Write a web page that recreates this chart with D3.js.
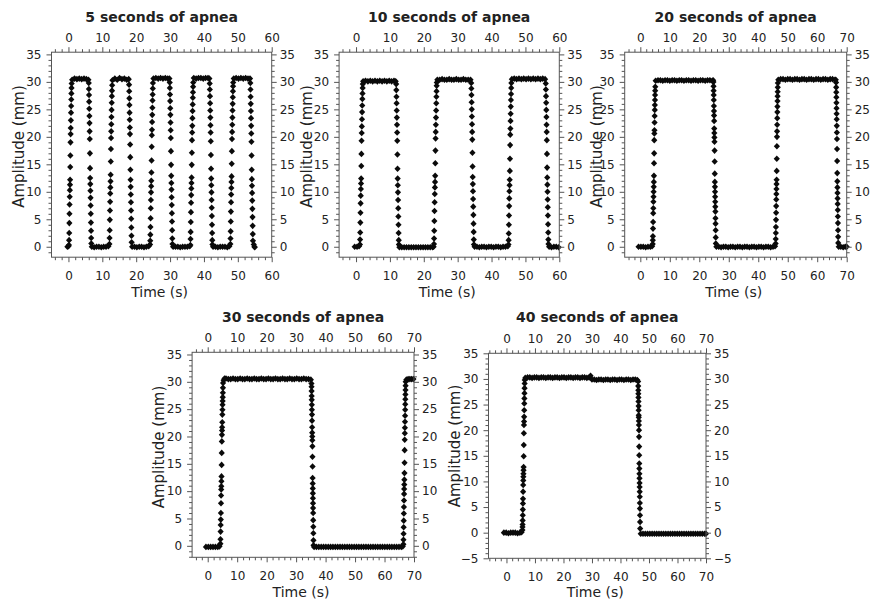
<!DOCTYPE html>
<html>
<head>
<meta charset="utf-8">
<script src="https://cdn.jsdelivr.net/npm/d3@7"></script>
<style>
  html, body { margin: 0; padding: 0; background: #ffffff; }
  svg { display: block; }
  text { font-family: "DejaVu Sans", Verdana, sans-serif; fill: #222; }
</style>
</head>
<body>
<svg id="chart" width="870" height="602"></svg>
<script>
// ---------------- DATA ----------------
const panelTitles = ["5 seconds of apnea", "10 seconds of apnea", "20 seconds of apnea", "30 seconds of apnea", "40 seconds of apnea"];
const xTicks60 = [0, 10, 20, 30, 40, 50, 60];
const xTicks70 = [0, 10, 20, 30, 40, 50, 60, 70];
const yTicks35 = [0, 5, 10, 15, 20, 25, 30, 35];
const yTicks40 = [-5, 0, 5, 10, 15, 20, 25, 30, 35];

// [time (s), amplitude (mm)]
const apnea05 = [
  [-0.3,0.0],[0.0,0.1],
  [0.15,0.3],[0.19,1.2],[0.23,2.5],[0.27,4.3],[0.30,6.0],[0.34,7.7],[0.38,9.1],[0.42,10.3],[0.46,11.3],[0.49,12.2],[0.53,14.5],[0.57,16.6],[0.61,19.0],[0.65,20.5],[0.68,21.6],[0.72,23.0],[0.76,24.4],[0.80,25.6],[0.84,26.8],[0.87,27.9],[0.91,28.9],[0.95,29.7],
  [1.1,30.4],[1.8,30.6],[2.5,30.5],[3.2,30.6],[3.9,30.5],[4.6,30.6],[5.3,30.5],[5.9,30.4],
  [6.00,29.8],[6.04,28.7],[6.08,27.6],[6.11,26.4],[6.15,25.1],[6.19,23.8],[6.23,22.5],[6.26,21.0],[6.30,19.6],[6.34,17.0],[6.38,14.3],[6.41,12.5],[6.45,11.4],[6.49,10.2],[6.53,8.9],[6.56,7.5],[6.60,6.0],[6.64,4.4],[6.68,2.9],[6.71,1.6],[6.75,0.6],
  [6.9,0.0],[7.6,-0.1],[8.3,0.0],[9.0,0.0],[9.7,-0.1],[10.4,0.0],[11.1,0.0],[11.8,0.1],
  [12.10,0.5],[12.14,1.6],[12.18,3.0],[12.22,4.9],[12.26,6.6],[12.30,8.2],[12.34,9.7],[12.38,10.8],[12.42,11.9],[12.46,13.1],[12.50,15.5],[12.54,17.8],[12.58,19.8],[12.62,21.0],[12.66,22.3],[12.70,23.6],[12.74,24.9],[12.78,26.2],[12.82,27.4],[12.86,28.4],[12.90,29.4],
  [13.0,30.3],[13.7,30.6],[14.4,30.4],[15.1,30.7],[15.8,30.5],[16.5,30.6],[17.2,30.4],[17.8,30.5],
  [17.90,29.5],[17.94,28.3],[17.98,27.0],[18.01,25.8],[18.05,24.4],[18.09,23.1],[18.13,21.7],[18.17,20.5],[18.21,18.6],[18.25,16.3],[18.29,14.0],[18.33,12.2],[18.37,10.9],[18.41,9.5],[18.45,8.1],[18.49,6.6],[18.53,5.1],[18.57,3.5],[18.61,2.0],[18.65,0.8],
  [18.8,0.0],[19.5,0.0],[20.2,-0.1],[20.9,0.0],[21.6,0.0],[22.3,-0.1],[23.0,0.0],[23.7,0.1],
  [24.10,0.4],[24.14,1.1],[24.18,2.2],[24.22,3.6],[24.26,5.2],[24.30,7.0],[24.34,8.5],[24.38,9.9],[24.42,11.0],[24.46,12.0],[24.50,13.5],[24.54,15.7],[24.58,18.2],[24.62,20.3],[24.66,21.3],[24.70,22.7],[24.74,24.0],[24.78,25.3],[24.82,26.6],[24.86,27.7],[24.90,28.8],[24.94,29.8],
  [25.1,30.6],[25.8,30.7],[26.5,30.6],[27.2,30.7],[27.9,30.6],[28.6,30.7],[29.3,30.6],[29.8,30.6],
  [29.90,29.9],[29.94,28.9],[29.98,27.7],[30.02,26.5],[30.06,25.2],[30.10,24.0],[30.14,22.6],[30.18,21.2],[30.22,19.8],[30.26,17.4],[30.30,14.9],[30.34,12.9],[30.38,11.6],[30.42,10.4],[30.46,9.0],[30.50,7.6],[30.54,6.1],[30.58,4.6],[30.62,3.0],[30.66,1.5],[30.70,0.5],
  [30.9,0.0],[31.6,0.0],[32.3,0.0],[33.0,-0.1],[33.7,0.0],[34.4,0.0],[35.1,0.0],[35.8,0.1],
  [36.00,0.3],[36.04,1.4],[36.08,2.7],[36.12,4.5],[36.16,6.3],[36.20,8.0],[36.24,9.4],[36.28,10.6],[36.32,11.6],[36.36,12.6],[36.40,14.9],[36.44,17.1],[36.48,19.4],[36.52,20.8],[36.56,22.0],[36.60,23.4],[36.64,24.7],[36.68,25.9],[36.72,27.1],[36.76,28.1],[36.80,29.1],[36.84,29.9],
  [37.0,30.7],[37.7,30.6],[38.4,30.7],[39.1,30.7],[39.8,30.6],[40.5,30.7],[41.2,30.7],[41.6,30.6],
  [41.70,29.7],[41.74,28.6],[41.78,27.4],[41.82,26.1],[41.86,24.8],[41.90,23.5],[41.94,22.1],[41.98,20.8],[42.02,19.2],[42.06,16.7],[42.10,14.2],[42.14,12.4],[42.18,11.2],[42.22,9.9],[42.26,8.5],[42.30,7.1],[42.34,5.6],[42.38,4.0],[42.42,2.5],[42.46,1.2],[42.50,0.4],
  [42.7,0.0],[43.4,0.0],[44.1,-0.1],[44.8,0.0],[45.5,0.0],[46.2,0.0],[46.9,-0.1],[47.5,0.1],
  [47.80,0.5],[47.84,1.5],[47.88,2.8],[47.92,4.6],[47.96,6.4],[48.00,8.1],[48.04,9.5],[48.08,10.7],[48.12,11.8],[48.16,12.8],[48.20,15.1],[48.24,17.4],[48.28,19.6],[48.32,20.9],[48.36,22.2],[48.40,23.5],[48.44,24.8],[48.48,26.0],[48.52,27.2],[48.56,28.3],[48.60,29.2],[48.64,29.9],
  [48.8,30.6],[49.5,30.7],[50.2,30.6],[50.9,30.7],[51.6,30.6],[52.3,30.7],[53.0,30.6],[53.6,30.6],
  [53.70,29.8],[53.74,28.6],[53.78,27.3],[53.82,26.0],[53.86,24.7],[53.90,23.4],[53.94,22.0],[53.98,20.6],[54.02,19.1],[54.06,16.6],[54.10,14.0],[54.14,12.3],[54.18,11.1],[54.22,9.8],[54.26,8.4],[54.30,6.9],[54.34,5.4],[54.38,3.8],[54.42,2.3],[54.46,1.1],
  [54.7,0.4],[54.9,0.0],[55.0,-0.1]
];

const apnea10 = [
  [-0.4,0.0],[0.3,0.0],[0.9,0.1],
  [1.15,0.4],[1.19,1.3],[1.23,2.6],[1.27,4.4],[1.31,6.2],[1.35,7.9],[1.39,9.3],[1.43,10.5],[1.47,11.5],[1.51,12.4],[1.55,14.7],[1.59,16.9],[1.63,19.3],[1.67,20.7],[1.71,21.9],[1.75,23.2],[1.79,24.5],[1.83,25.7],[1.87,26.9],[1.91,27.9],[1.95,28.9],[1.99,29.6],
  [2.1,30.1],[2.8,30.2],[3.5,30.1],[4.2,30.2],[4.9,30.1],[5.6,30.2],[6.3,30.1],[7.0,30.2],[7.7,30.1],[8.4,30.2],[9.1,30.1],[9.8,30.2],[10.5,30.1],[11.2,30.2],[11.7,30.1],
  [11.85,29.6],[11.89,28.5],[11.93,27.3],[11.97,26.1],[12.01,24.8],[12.05,23.5],[12.09,22.2],[12.13,20.8],[12.17,19.3],[12.21,16.8],[12.25,14.2],[12.29,12.4],[12.33,11.2],[12.37,9.9],[12.41,8.5],[12.45,7.0],[12.49,5.5],[12.53,4.0],[12.57,2.5],[12.61,1.2],[12.65,0.4],
  [12.8,-0.1],[13.5,-0.1],[14.2,-0.1],[14.9,-0.1],[15.6,-0.1],[16.3,-0.1],[17.0,-0.1],[17.7,-0.1],[18.4,-0.1],[19.1,-0.1],[19.8,-0.1],[20.5,-0.1],[21.2,-0.1],[21.9,-0.1],[22.6,-0.1],[22.9,0.0],
  [23.00,0.5],[23.04,1.5],[23.08,2.9],[23.12,4.7],[23.16,6.5],[23.20,8.1],[23.24,9.6],[23.28,10.8],[23.32,11.8],[23.36,12.9],[23.40,15.2],[23.44,17.5],[23.48,19.7],[23.52,20.9],[23.56,22.2],[23.60,23.5],[23.64,24.8],[23.68,26.1],[23.72,27.3],[23.76,28.3],[23.80,29.3],[23.84,29.9],
  [24.0,30.4],[24.7,30.4],[25.4,30.5],[26.1,30.4],[26.8,30.4],[27.5,30.5],[28.2,30.4],[28.9,30.4],[29.6,30.5],[30.3,30.4],[31.0,30.4],[31.7,30.5],[32.4,30.4],[33.1,30.4],[33.8,30.4],
  [34.00,29.8],[34.04,28.8],[34.08,27.6],[34.12,26.3],[34.16,25.0],[34.20,23.7],[34.24,22.3],[34.28,20.9],[34.32,19.5],[34.36,17.1],[34.40,14.6],[34.44,12.7],[34.48,11.4],[34.52,10.1],[34.56,8.7],[34.60,7.3],[34.64,5.8],[34.68,4.2],[34.72,2.7],[34.76,1.3],[34.80,0.4],
  [35.0,0.0],[35.7,0.0],[36.4,-0.1],[37.1,0.0],[37.8,0.0],[38.5,-0.1],[39.2,0.0],[39.9,0.0],[40.6,-0.1],[41.3,0.0],[42.0,0.0],[42.7,-0.1],[43.4,0.0],[44.1,0.0],[44.8,0.1],
  [45.00,0.4],[45.04,1.2],[45.08,2.4],[45.12,4.0],[45.16,5.7],[45.20,7.4],[45.24,8.8],[45.28,10.1],[45.32,11.2],[45.36,12.2],[45.40,13.8],[45.44,16.0],[45.48,18.5],[45.52,20.4],[45.56,21.5],[45.60,22.9],[45.64,24.2],[45.68,25.5],[45.72,26.7],[45.76,27.8],[45.80,28.9],[45.84,29.8],
  [46.0,30.5],[46.7,30.6],[47.4,30.5],[48.1,30.6],[48.8,30.5],[49.5,30.6],[50.2,30.5],[50.9,30.6],[51.6,30.5],[52.3,30.6],[53.0,30.5],[53.7,30.6],[54.4,30.5],[55.1,30.6],[55.8,30.5],
  [56.00,29.7],[56.04,28.6],[56.08,27.4],[56.12,26.2],[56.16,24.9],[56.20,23.6],[56.24,22.2],[56.28,20.9],[56.32,19.4],[56.36,16.9],[56.40,14.4],[56.44,12.6],[56.48,11.3],[56.52,10.0],[56.56,8.6],[56.60,7.2],[56.64,5.7],[56.68,4.1],[56.72,2.6],[56.76,1.3],[56.80,0.5],
  [57.0,0.0],[57.7,-0.1],[58.4,0.0],[59.1,0.0],[59.8,-0.1]
];

const apnea20 = [
  [-0.6,0.0],[0.2,0.0],[1.0,0.0],[1.8,-0.1],[2.6,0.0],[3.4,0.0],[4.0,0.1],
  [4.20,0.5],[4.23,1.2],[4.27,1.9],[4.30,3.3],[4.34,4.5],[4.37,6.1],[4.41,7.0],[4.44,8.2],[4.48,9.1],[4.51,10.0],[4.55,10.9],[4.58,11.8],[4.62,12.9],[4.65,15.2],[4.69,17.0],[4.72,19.4],[4.76,20.6],[4.79,21.2],[4.83,22.6],[4.86,23.8],[4.90,24.9],[4.93,25.8],[4.97,26.7],[5.00,27.6],[5.04,28.4],[5.07,29.1],
  [5.2,30.2],[6.0,30.3],[6.8,30.3],[7.6,30.2],[8.4,30.3],[9.2,30.3],[10.0,30.2],[10.8,30.3],[11.6,30.3],[12.4,30.2],[13.2,30.3],[14.0,30.3],[14.8,30.2],[15.6,30.3],[16.4,30.3],[17.2,30.2],[18.0,30.3],[18.8,30.3],[19.6,30.2],[20.4,30.3],[21.2,30.3],[22.0,30.2],[22.8,30.3],[23.6,30.3],[24.4,30.2],[24.7,30.3],
  [24.80,30.0],[24.83,29.2],[24.86,28.4],[24.89,27.6],[24.92,26.7],[24.95,25.6],[24.98,24.7],[25.01,23.9],[25.04,22.9],[25.07,21.5],[25.10,20.7],[25.13,19.9],[25.16,19.1],[25.19,17.5],[25.22,15.5],[25.25,13.3],[25.28,11.8],[25.31,10.9],[25.34,10.0],[25.37,9.1],[25.40,8.2],[25.43,7.3],[25.46,6.4],[25.49,5.2],[25.52,4.2],[25.55,3.0],[25.58,1.7],[25.61,0.6],
  [25.8,0.0],[26.6,0.0],[27.4,-0.1],[28.2,0.0],[29.0,0.0],[29.8,-0.1],[30.6,0.0],[31.4,0.0],[32.2,-0.1],[33.0,0.0],[33.8,0.0],[34.6,-0.1],[35.4,0.0],[36.2,0.0],[37.0,-0.1],[37.8,0.0],[38.6,0.0],[39.4,-0.1],[40.2,0.0],[41.0,0.0],[41.8,-0.1],[42.6,0.0],[43.4,0.0],[44.2,-0.1],[45.0,0.0],[45.7,0.1],
  [45.90,0.6],[45.93,1.4],[45.96,2.5],[45.99,3.6],[46.02,4.9],[46.05,6.2],[46.08,7.4],[46.11,8.6],[46.14,9.6],[46.17,10.5],[46.20,11.4],[46.23,12.2],[46.26,13.8],[46.29,16.0],[46.32,18.3],[46.35,20.0],[46.38,21.0],[46.41,22.2],[46.44,23.4],[46.47,24.5],[46.50,25.5],[46.53,26.5],[46.56,27.4],[46.59,28.2],[46.62,29.0],[46.65,29.8],
  [46.8,30.4],[47.6,30.5],[48.4,30.5],[49.2,30.4],[50.0,30.5],[50.8,30.5],[51.6,30.4],[52.4,30.5],[53.2,30.5],[54.0,30.4],[54.8,30.5],[55.6,30.5],[56.4,30.4],[57.2,30.5],[58.0,30.5],[58.8,30.4],[59.6,30.5],[60.4,30.5],[61.2,30.4],[62.0,30.5],[62.8,30.5],[63.6,30.4],[64.4,30.5],[65.2,30.5],[66.0,30.4],[66.3,30.4],
  [66.40,29.9],[66.43,29.0],[66.46,28.1],[66.49,27.2],[66.52,26.2],[66.55,25.2],[66.58,24.2],[66.61,23.2],[66.64,22.0],[66.67,20.8],[66.70,19.6],[66.73,17.8],[66.76,15.6],[66.79,13.4],[66.82,11.9],[66.85,10.8],[66.88,9.8],[66.91,8.8],[66.94,7.8],[66.97,6.7],[67.00,5.5],[67.03,4.3],[67.06,3.0],[67.09,1.8],[67.12,0.7],
  [67.3,0.0],[68.0,0.0],[68.8,-0.1],[69.5,0.0],[70.0,0.0]
];

const apnea30 = [
  [-0.6,-0.2],[0.2,-0.2],[1.0,-0.2],[1.8,-0.2],[2.6,-0.2],[3.4,-0.2],[4.0,-0.1],
  [4.30,0.4],[4.33,1.2],[4.37,2.6],[4.40,3.8],[4.44,4.8],[4.47,6.0],[4.51,7.8],[4.54,9.2],[4.58,10.3],[4.61,10.9],[4.65,11.8],[4.68,12.7],[4.72,14.8],[4.75,17.0],[4.79,19.1],[4.82,20.3],[4.86,21.1],[4.89,21.7],[4.93,22.6],[4.96,24.0],[5.00,24.9],[5.03,25.8],[5.07,26.5],[5.10,27.2],[5.14,28.0],[5.17,28.9],[5.21,29.8],
  [5.4,30.3],[5.7,30.6],
  [6.2,30.6],[7.0,30.5],[7.8,30.5],[8.6,30.6],[9.4,30.5],[10.2,30.5],[11.0,30.6],[11.8,30.5],[12.6,30.5],[13.4,30.6],[14.2,30.5],[15.0,30.5],[15.8,30.6],[16.6,30.5],[17.4,30.5],[18.2,30.6],[19.0,30.5],[19.8,30.5],[20.6,30.6],[21.4,30.5],[22.2,30.5],[23.0,30.6],[23.8,30.5],[24.6,30.5],[25.4,30.6],[26.2,30.5],[27.0,30.5],[27.8,30.6],[28.6,30.5],[29.4,30.5],[30.2,30.6],[31.0,30.5],[31.8,30.5],[32.6,30.6],[33.4,30.5],[34.2,30.5],[35.0,30.4],
  [35.20,29.7],[35.23,29.1],[35.25,28.3],[35.28,27.4],[35.30,26.7],[35.33,25.8],[35.35,24.9],[35.38,24.0],[35.40,22.9],[35.43,21.7],[35.45,20.7],[35.48,20.0],[35.50,19.3],[35.53,18.2],[35.55,16.3],[35.58,14.5],[35.60,12.4],[35.63,11.4],[35.65,10.5],[35.68,9.6],[35.70,8.7],[35.73,7.8],[35.75,6.9],[35.78,6.0],[35.80,4.7],[35.83,3.5],[35.85,2.3],[35.88,1.0],[35.90,0.1],
  [36.1,-0.2],[36.9,-0.2],[37.7,-0.2],[38.5,-0.2],[39.3,-0.2],[40.1,-0.2],[40.9,-0.2],[41.7,-0.2],[42.5,-0.2],[43.3,-0.2],[44.1,-0.2],[44.9,-0.2],[45.7,-0.2],[46.5,-0.2],[47.3,-0.2],[48.1,-0.2],[48.9,-0.2],[49.7,-0.2],[50.5,-0.2],[51.3,-0.2],[52.1,-0.2],[52.9,-0.2],[53.7,-0.2],[54.5,-0.2],[55.3,-0.2],[56.1,-0.2],[56.9,-0.2],[57.7,-0.2],[58.5,-0.2],[59.3,-0.2],[60.1,-0.2],[60.9,-0.2],[61.7,-0.2],[62.5,-0.2],[63.3,-0.2],[64.1,-0.2],[64.9,-0.2],[65.7,-0.2],[66.2,-0.1],
  [66.40,0.3],[66.43,1.1],[66.46,2.2],[66.49,3.4],[66.52,4.6],[66.55,5.9],[66.58,7.1],[66.61,8.3],[66.64,9.5],[66.67,10.4],[66.70,11.2],[66.73,12.1],[66.76,13.3],[66.79,15.2],[66.82,17.5],[66.85,19.4],[66.88,20.6],[66.91,21.6],[66.94,22.7],[66.97,23.8],[67.00,24.9],[67.03,25.9],[67.06,26.8],[67.09,27.7],[67.12,28.5],[67.15,29.3],[67.18,30.0],
  [67.4,30.4],[68.0,30.5],[68.6,30.5],[69.2,30.5],[69.8,30.5]
];

const apnea40 = [
  [-0.9,0.0],[-0.1,0.0],[0.7,-0.1],[1.5,0.0],[2.3,0.0],[3.1,0.0],[3.9,-0.1],[4.7,0.0],[5.3,0.1],
  [5.60,0.5],[5.63,1.1],[5.66,1.6],[5.69,2.4],[5.72,3.4],[5.75,4.5],[5.78,5.7],[5.81,6.6],[5.84,8.0],[5.87,9.3],[5.90,10.2],[5.93,10.9],[5.96,11.5],[5.99,12.2],[6.02,12.8],[6.05,14.9],[6.08,17.1],[6.11,19.4],[6.14,21.0],[6.17,21.7],[6.20,22.6],[6.23,23.9],[6.26,25.2],[6.29,26.2],[6.32,27.2],[6.35,28.2],[6.38,29.1],[6.41,29.8],
  [6.6,30.2],[7.4,30.3],[8.2,30.3],[9.0,30.2],[9.8,30.3],[10.6,30.3],[11.4,30.2],[12.2,30.3],[13.0,30.3],[13.8,30.2],[14.6,30.3],[15.4,30.3],[16.2,30.2],[17.0,30.3],[17.8,30.3],[18.6,30.2],[19.4,30.3],[20.2,30.3],[21.0,30.2],[21.8,30.3],[22.6,30.3],[23.4,30.2],[24.2,30.3],[25.0,30.3],[25.8,30.2],[26.6,30.3],[27.4,30.3],[28.2,30.2],[29.0,30.3],
  [29.5,30.6],
  [30.0,29.9],[30.8,29.9],[31.6,29.8],[32.4,29.9],[33.2,29.9],[34.0,29.8],[34.8,29.9],[35.6,29.9],[36.4,29.8],[37.2,29.9],[38.0,29.9],[38.8,29.8],[39.6,29.9],[40.4,29.9],[41.2,29.8],[42.0,29.9],[42.8,29.9],[43.6,29.8],[44.4,29.9],[45.2,29.9],[45.9,29.8],
  [46.20,29.5],[46.22,28.6],[46.25,27.8],[46.27,27.1],[46.30,26.4],[46.32,25.6],[46.35,24.7],[46.37,23.9],[46.40,22.9],[46.42,22.5],[46.45,21.8],[46.47,21.0],[46.50,20.0],[46.52,18.7],[46.55,16.8],[46.57,15.1],[46.60,13.5],[46.62,12.5],[46.65,11.5],[46.67,10.6],[46.70,9.7],[46.72,8.9],[46.75,8.0],[46.77,7.0],[46.80,5.8],[46.82,4.7],[46.85,3.4],[46.87,2.1],[46.90,0.8],
  [47.1,-0.2],[47.9,-0.2],[48.7,-0.2],[49.5,-0.2],[50.3,-0.2],[51.1,-0.2],[51.9,-0.2],[52.7,-0.2],[53.5,-0.2],[54.3,-0.2],[55.1,-0.2],[55.9,-0.2],[56.7,-0.2],[57.5,-0.2],[58.3,-0.2],[59.1,-0.2],[59.9,-0.2],[60.7,-0.2],[61.5,-0.2],[62.3,-0.2],[63.1,-0.2],[63.9,-0.2],[64.7,-0.2],[65.5,-0.2],[66.3,-0.2],[67.1,-0.2],[67.9,-0.2],[68.7,-0.2],[69.5,-0.2],[70.0,-0.2]
];

// ---------------- LAYOUT ----------------
const panels = [
  { title: panelTitles[0], data: apnea05, xDomain: [-5, 60], xRange: [51.5, 271.7], xTicks: xTicks60,
    yDomain: [-1.9, 35.4], yRange: [257.2, 52.2], yTicks: yTicks35, ylabOff: 27.5, ylabY: 146.5, titleY: 22, timeY: 296.5 },
  { title: panelTitles[1], data: apnea10, xDomain: [-5, 60], xRange: [339.1, 559.3], xTicks: xTicks60,
    yDomain: [-1.9, 35.4], yRange: [257.2, 52.2], yTicks: yTicks35, ylabOff: 27, ylabY: 146.5, titleY: 22, timeY: 296.5 },
  { title: panelTitles[2], data: apnea20, xDomain: [-5.3, 70], xRange: [624.7, 846.7], xTicks: xTicks70,
    yDomain: [-1.9, 35.4], yRange: [257.2, 52.2], yTicks: yTicks35, ylabOff: 22.7, ylabY: 146.5, titleY: 22, timeY: 296.5 },
  { title: panelTitles[3], data: apnea30, xDomain: [-5.3, 70], xRange: [192.1, 414], xTicks: xTicks70,
    yDomain: [-2.1, 35.4], yRange: [557.3, 352.3], yTicks: yTicks35, ylabOff: 28, ylabY: 447, titleY: 321.5, timeY: 597 },
  { title: panelTitles[4], data: apnea40, xDomain: [-6.3, 70], xRange: [488.5, 706], xTicks: xTicks70,
    yDomain: [-5, 35], yRange: [558.3, 353.3], yTicks: yTicks40, ylabOff: 28.5, ylabY: 446, titleY: 321.5, timeY: 597 }
];

const svg = d3.select("#chart");
const marker = "M0,-3.3L3.1,0L0,3.3L-3.1,0Z";
const lineColor = "#555";

function styleAxis(g) {
  g.select(".domain").remove();
  g.selectAll(".tick line").attr("stroke", lineColor).attr("stroke-width", 1);
  g.selectAll(".tick text").attr("fill", "#222").style("font-family", "DejaVu Sans").style("font-size", "12px");
}

panels.forEach(p => {
  const x = d3.scaleLinear().domain(p.xDomain).range(p.xRange);
  const y = d3.scaleLinear().domain(p.yDomain).range(p.yRange);
  const left = p.xRange[0], right = p.xRange[1], top = p.yRange[1], bottom = p.yRange[0];
  const xMinor = d3.range(Math.ceil(p.xDomain[0] / 2) * 2, p.xDomain[1] + 0.001, 2).filter(v => v % 10 !== 0);
  const yMinor = d3.range(Math.ceil(p.yDomain[0]), p.yDomain[1] + 0.001, 1).filter(v => v % 5 !== 0);

  const g = svg.append("g");

  // points
  g.append("g").selectAll("path")
    .data(p.data)
    .join("path")
    .attr("d", marker)
    .attr("transform", d => `translate(${x(d[0])},${y(d[1])})`)
    .attr("fill", "#0a0a0a");

  // minor ticks
  g.append("g").attr("transform", `translate(0,${bottom})`)
    .call(d3.axisBottom(x).tickValues(xMinor).tickSize(3).tickFormat("")).call(styleAxis);
  g.append("g").attr("transform", `translate(0,${top})`)
    .call(d3.axisTop(x).tickValues(xMinor).tickSize(3).tickFormat("")).call(styleAxis);
  g.append("g").attr("transform", `translate(${left},0)`)
    .call(d3.axisLeft(y).tickValues(yMinor).tickSize(3).tickFormat("")).call(styleAxis);
  g.append("g").attr("transform", `translate(${right},0)`)
    .call(d3.axisRight(y).tickValues(yMinor).tickSize(3).tickFormat("")).call(styleAxis);

  // major ticks + labels
  g.append("g").attr("transform", `translate(0,${bottom})`)
    .call(d3.axisBottom(x).tickValues(p.xTicks).tickSize(5).tickPadding(9).tickFormat(d3.format("d"))).call(styleAxis);
  g.append("g").attr("transform", `translate(0,${top})`)
    .call(d3.axisTop(x).tickValues(p.xTicks).tickSize(5).tickPadding(5).tickFormat(d3.format("d"))).call(styleAxis);
  g.append("g").attr("transform", `translate(${left},0)`)
    .call(d3.axisLeft(y).tickValues(p.yTicks).tickSize(5).tickPadding(5).tickFormat(d3.format("d"))).call(styleAxis);
  g.append("g").attr("transform", `translate(${right},0)`)
    .call(d3.axisRight(y).tickValues(p.yTicks).tickSize(5).tickPadding(3).tickFormat(d3.format("d"))).call(styleAxis);

  // frame
  g.append("rect")
    .attr("x", left).attr("y", top)
    .attr("width", right - left).attr("height", bottom - top)
    .attr("fill", "none").attr("stroke", lineColor).attr("stroke-width", 1);

  // title
  g.append("text")
    .attr("x", (left + right) / 2).attr("y", p.titleY)
    .attr("text-anchor", "middle")
    .style("font-size", "14px").style("font-weight", "bold")
    .attr("fill", "#111")
    .text(p.title);

  // x label
  g.append("text")
    .attr("x", (left + right) / 2 - 2).attr("y", p.timeY)
    .attr("text-anchor", "middle")
    .style("font-size", "14px")
    .text("Time (s)");

  // y label
  g.append("text")
    .attr("transform", `translate(${left - p.ylabOff},${p.ylabY}) rotate(-90)`)
    .attr("text-anchor", "middle")
    .style("font-size", "15px")
    .text("Amplitude (mm)");
});
</script>
</body>
</html>
